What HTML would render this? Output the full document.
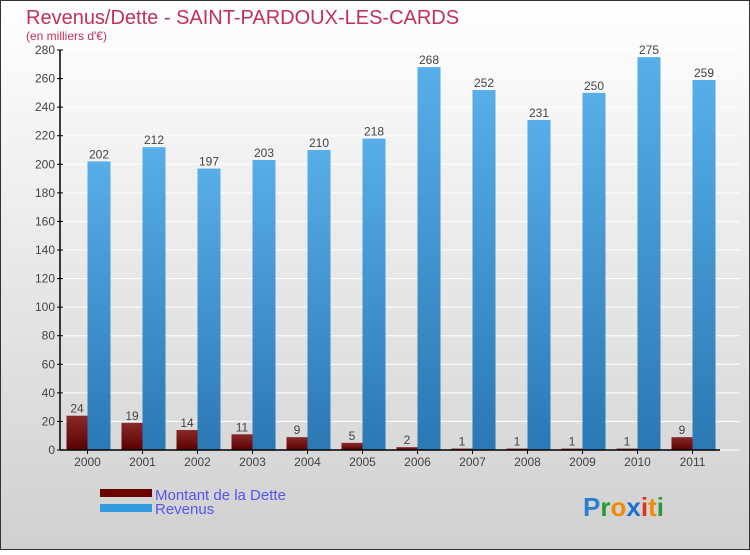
<!DOCTYPE html>
<html><head><meta charset="utf-8"><style>
body{margin:0}
svg text{font-family:"Liberation Sans",sans-serif}
</style></head><body>
<svg id="c" width="750" height="550" xmlns="http://www.w3.org/2000/svg">
<defs>
<linearGradient id="bg" x1="0" y1="0" x2="0" y2="1"><stop offset="0" stop-color="#ffffff"/><stop offset="1" stop-color="#d0d0d0"/></linearGradient>
<linearGradient id="rv" x1="0" y1="0" x2="0" y2="1"><stop offset="0" stop-color="#58aee8"/><stop offset="1" stop-color="#2a78b4"/></linearGradient>
<linearGradient id="dt" x1="0" y1="0" x2="0" y2="1"><stop offset="0" stop-color="#8a2a2a"/><stop offset="1" stop-color="#5a0000"/></linearGradient>
</defs>
<rect x="0.5" y="0.5" width="749" height="549" fill="url(#bg)" stroke="#333"/>
<text x="26" y="24" font-size="20" fill="#c0305a">Revenus/Dette - SAINT-PARDOUX-LES-CARDS</text>
<text x="26" y="40" font-size="12" fill="#c0305a">(en milliers d'€)</text>
<g id="grid"></g><g id="bars"></g><g id="axes"></g>
<rect x="100" y="489" width="52" height="8" fill="#6a0000"/>
<rect x="100" y="504" width="52" height="8" fill="#3399dd"/>
<text x="155" y="500" font-size="15" fill="#5555ee">Montant de la Dette</text>
<text x="155" y="514" font-size="15" fill="#5555ee">Revenus</text>
<text x="583" y="516" font-size="26" font-weight="bold"><tspan fill="#2a7fd0">P</tspan><tspan fill="#2a9a3a">r</tspan><tspan fill="#f08a00">o</tspan><tspan fill="#1a6fd0">x</tspan><tspan fill="#e03020">i</tspan><tspan fill="#f08a00">t</tspan><tspan fill="#2a9a3a">i</tspan></text>
</svg>
<script>
const years=["2000","2001","2002","2003","2004","2005","2006","2007","2008","2009","2010","2011"];
const dette=[24,19,14,11,9,5,2,1,1,1,1,9];
const revenus=[202,212,197,203,210,218,268,252,231,250,275,259];
const yTicks=[0,20,40,60,80,100,120,140,160,180,200,220,240,260,280];
const NS="http://www.w3.org/2000/svg";
const y0=450,yTop=50,yMax=280,xL=60,xR=720;
const y=v=>y0-(v/yMax)*(y0-yTop);
const xc=i=>87.5+55*i;
function mk(t,a,p,txt){const e=document.createElementNS(NS,t);for(const k in a)e.setAttribute(k,a[k]);if(txt!==undefined)e.textContent=txt;p.appendChild(e);return e;}
const G=document.getElementById('grid'),B=document.getElementById('bars'),A=document.getElementById('axes');
yTicks.forEach(t=>{
 const l=mk('line',{x1:xL,x2:740,y1:y(t),y2:y(t),stroke:'#ffffff','stroke-width':1},G);
 
 
 const tk=mk('line',{x1:xL-3,x2:xL+3,y1:y(t),y2:y(t),stroke:'#000'},A);
 
 
 const tx=mk('text',{x:xL-5,y:y(t)+4,'font-size':12,fill:'#444','text-anchor':'end'},A,String(t));
 
 
});
years.forEach((yr,i)=>{
 const c=xc(i);
 const d=mk('rect',{x:c-21,y:y(dette[i]),width:21,height:y0-y(dette[i]),fill:'url(#dt)'},B);
 
 
 const r=mk('rect',{x:c,y:y(revenus[i]),width:23,height:y0-y(revenus[i]),fill:'url(#rv)'},B);
 
 
 const dl=mk('text',{x:c-10.5,y:y(dette[i])-3,'font-size':12,fill:'#444','text-anchor':'middle'},B,String(dette[i]));
 
 
 const rl=mk('text',{x:c+11.5,y:y(revenus[i])-3,'font-size':12,fill:'#444','text-anchor':'middle'},B,String(revenus[i]));
 
 
 const xt=mk('line',{x1:c,x2:c,y1:y0,y2:y0+4,stroke:'#000'},A);
 
 
 const xl=mk('text',{x:c,y:y0+16,'font-size':12,fill:'#444','text-anchor':'middle'},A,yr);
 
 
});
const ya=mk('line',{x1:xL,x2:xL,y1:yTop,y2:y0,stroke:'#000','stroke-width':1.5},A);


const xa=mk('line',{x1:xL,x2:xR,y1:y0,y2:y0,stroke:'#000','stroke-width':1.5},A);


</script>
</body></html>
